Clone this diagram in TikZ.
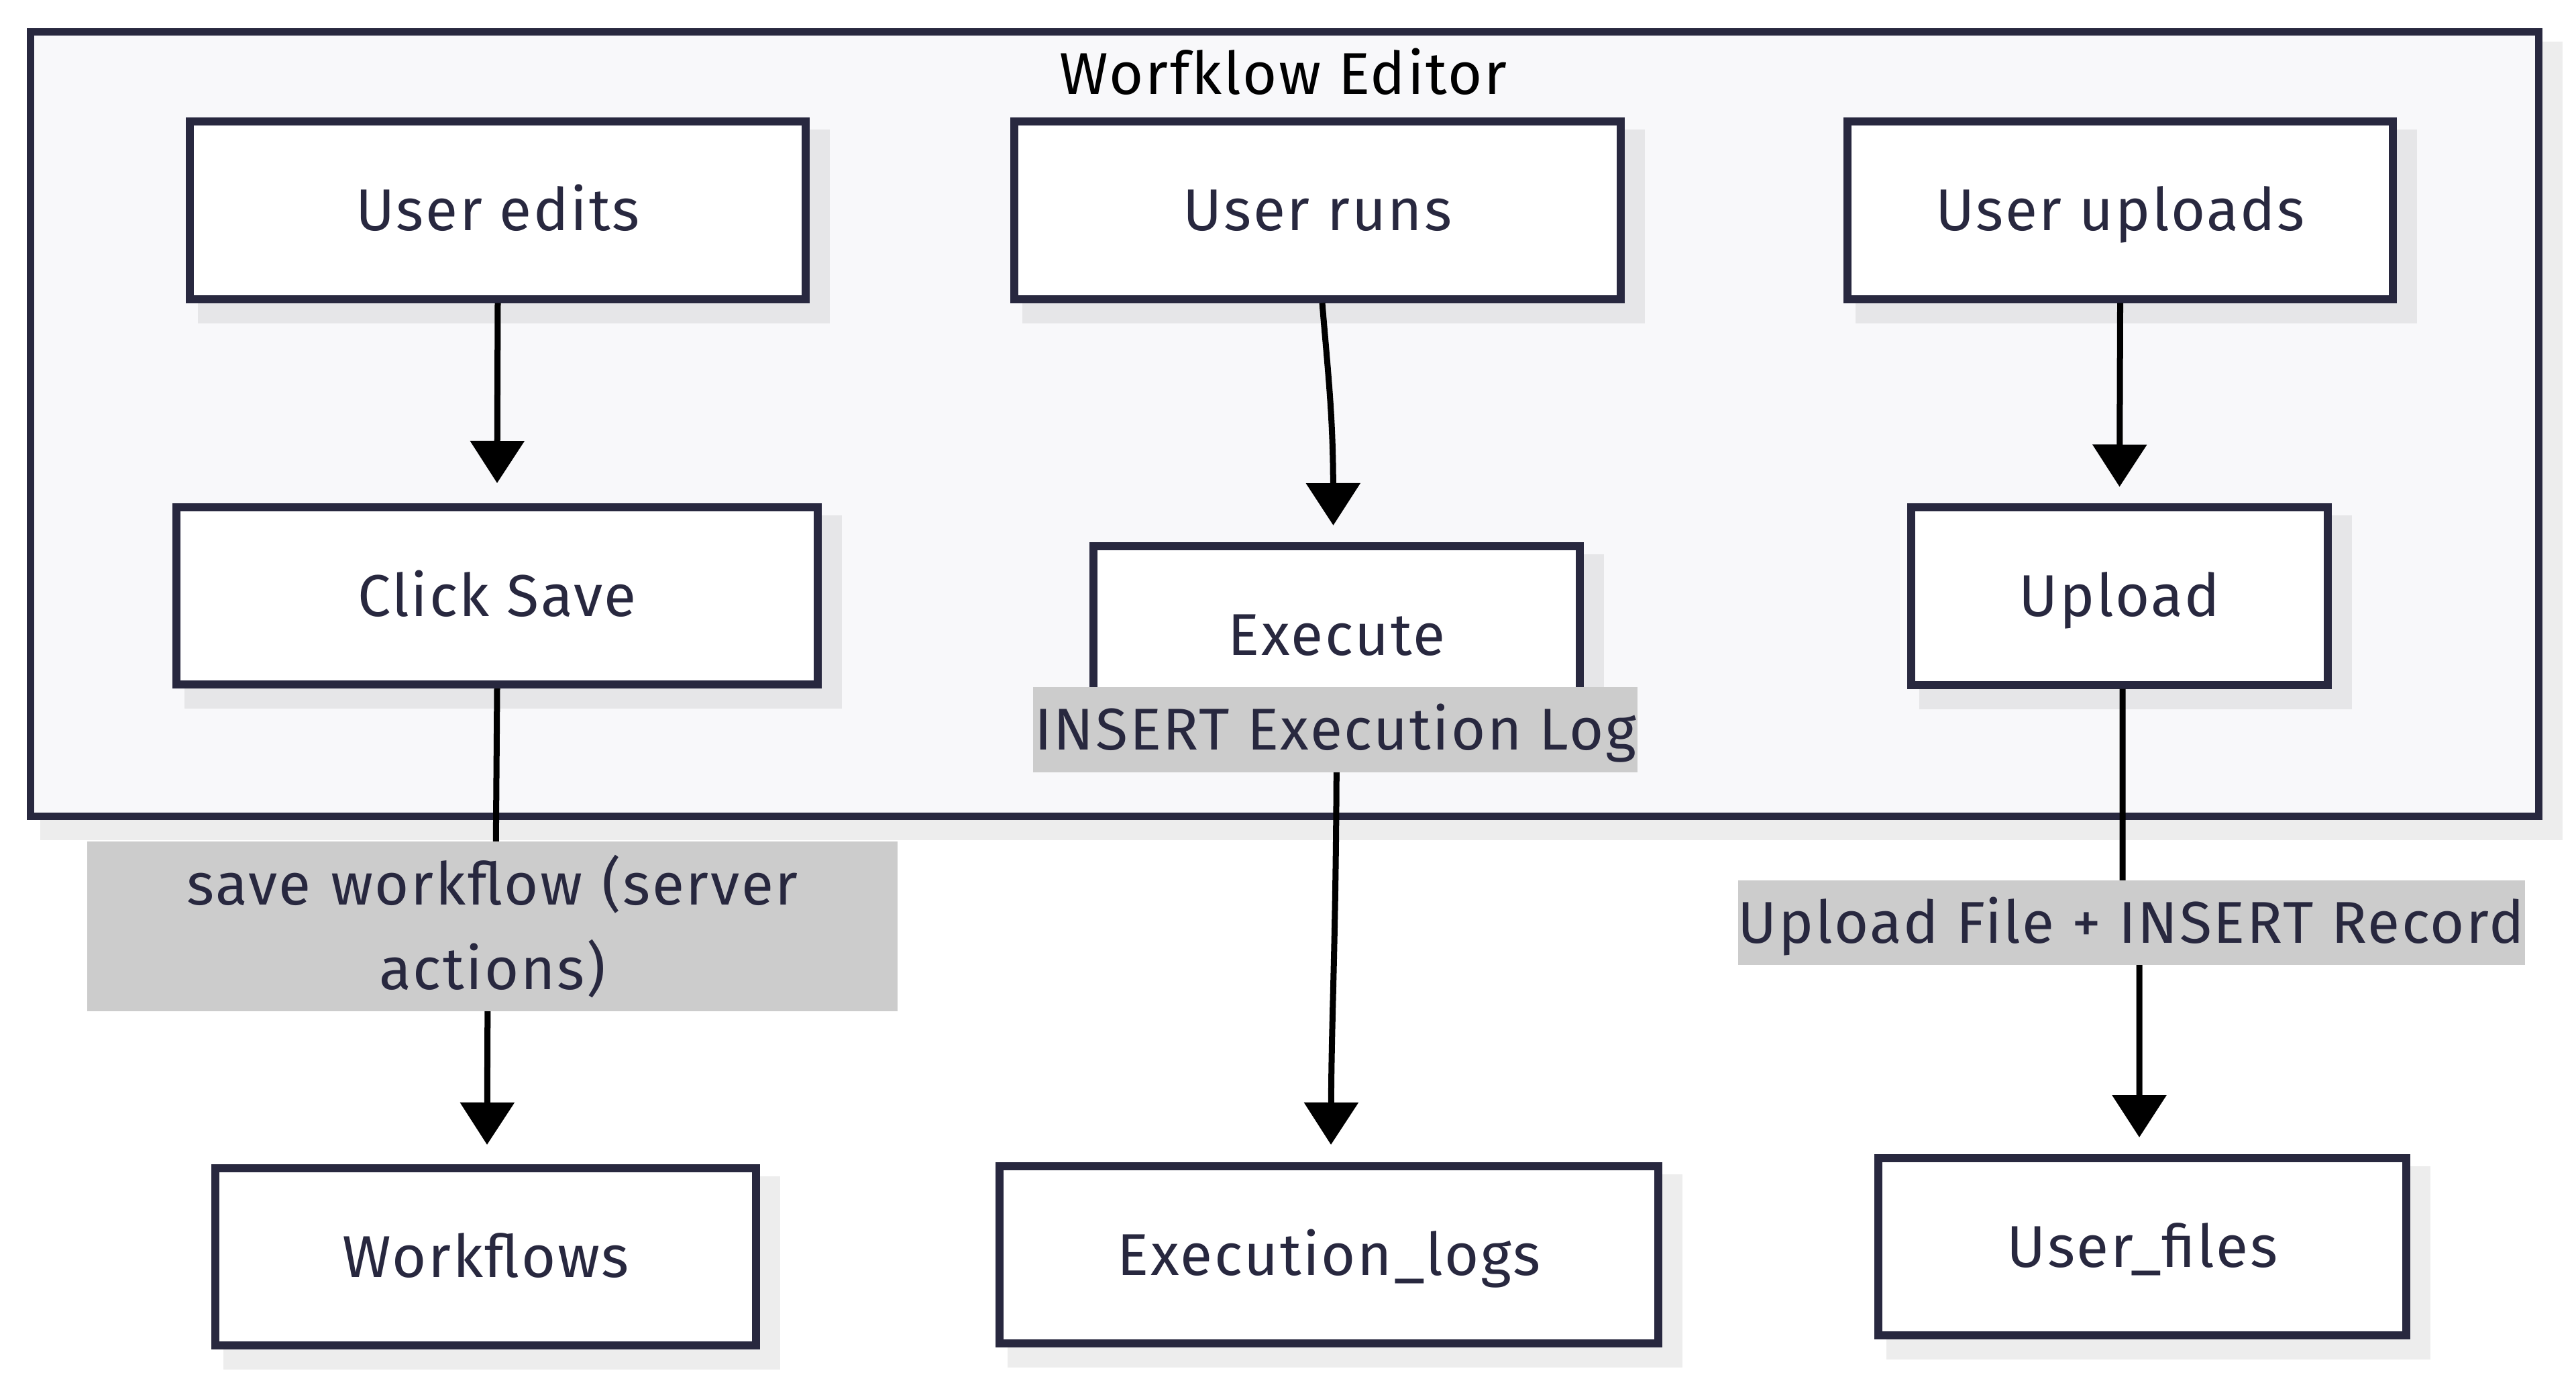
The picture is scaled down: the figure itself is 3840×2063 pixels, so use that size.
\documentclass[tikz,border=0pt]{standalone}
\usepackage{fontspec}
\setmainfont{Fira Sans}[LetterSpace=3]
\usetikzlibrary{arrows.meta,calc}
\definecolor{ink}{HTML}{28283F}
\definecolor{framefill}{HTML}{F8F8FA}
\definecolor{lblfill}{HTML}{CCCCCC}
\pgfdeclarelayer{bglayer}
\pgfdeclarelayer{shadowlayer}
\pgfsetlayers{bglayer,shadowlayer,main}
\newcommand\boxshadow[1]{\fill[black,opacity=0.07] ($(#1.north west)+(18,18)$) rectangle ($(#1.south east)+(30,30)$);}
\begin{document}
\begin{tikzpicture}[x=0.01cm,y=-0.01cm,
  txt/.style={font=\fontsize{25}{30}\selectfont},
  box/.style={txt, draw=ink, line width=3.4pt, fill=white, minimum width=#1, minimum height=2.64cm, inner sep=0pt, text=ink, text height=17.3pt, text depth=0pt},
  lbl/.style={txt, fill=lblfill, inner sep=0pt, text=ink},
  framebox/.style={draw=ink, line width=3.1pt, fill=framefill, minimum width=37.36cm, minimum height=11.68cm, inner sep=0pt},
  titletext/.style={txt, text=black, inner sep=0pt, text height=17.3pt, text depth=0pt},
  edge/.style={draw=black, line width=2.56pt, -{Triangle[length=17.9pt,width=22.5pt]}}
]
\useasboundingbox (0,0) rectangle (3840,2063);
\begin{pgfonlayer}{bglayer}
  \fill[white] (0,0) rectangle (3840,2063);
  \node[framebox] (editor) at (1915,632) {};
  \fill[black,opacity=0.07] ($(editor.north west)+(19.5,19.5)$) rectangle ($(editor.south east)+(30.5,30.5)$);
  \node[framebox] at (1915,632) {};
\end{pgfonlayer}
\node[titletext] (ttl) at (1913,110) {Worfklow Editor};

\node[box=9.18cm] (uedit) at (742,313.5) {User edits};
\node[box=9.04cm] (urun) at (1964,313.5) {User runs};
\node[box=8.13cm] (uupl) at (3160.5,313.5) {User uploads};
\node[box=9.56cm] (csave) at (741,888) {Click Save};
\node[box=7.25cm] (exec) at (1992.5,946) {Execute};
\node[box=6.21cm] (upl) at (3159.5,888.5) {Upload};
\node[box=8.06cm] (wf) at (724,1873) {Workflows};
\node[box=9.82cm] (elogs) at (1981,1870) {Execution\_logs};
\node[box=7.87cm] (ufiles) at (3193.5,1858) {User\_files};

\begin{pgfonlayer}{shadowlayer}
  \boxshadow{uedit}\boxshadow{urun}\boxshadow{uupl}
  \boxshadow{csave}\boxshadow{exec}\boxshadow{upl}
  \boxshadow{wf}\boxshadow{elogs}\boxshadow{ufiles}
\end{pgfonlayer}

\draw[edge] (uedit.south) -- ($(csave.north)+(0,-30)$);
\draw[edge] ($(urun.south)+(7,0)$) .. controls (1980,560) and (1987,620) .. ($(exec.north)+(-5,-25)$);
\draw[edge] (uupl.south) -- ($(upl.north)+(0,-25)$);
\draw[edge] (csave.south) -- (739,1290) -- (727,1470) -- ($(wf.north)+(2,-29)$);
\draw[edge] (exec.south) .. controls (1992,1400) and (1985,1500) .. ($(elogs.north)+(3,-26)$);
\draw[edge] ($(upl.south)+(4.5,0)$) -- (3164,1330) -- (3189,1420) -- ($(ufiles.north)+(-4.5,-25)$);

\node[lbl, minimum width=12.08cm, minimum height=2.53cm, align=center, text width=12.08cm, font=\fontsize{25}{35.8}\selectfont] (lsave) at (734,1380.5) {save workflow (server\\actions)};
\node[lbl, minimum width=9.01cm, minimum height=1.27cm, text height=17.3pt, text depth=0pt] (lexec) at (1990.5,1087.5) {INSERT Execution Log};
\node[lbl, minimum width=11.72cm, minimum height=1.26cm, text height=17.3pt, text depth=0pt] (lupl) at (3177,1375) {Upload File + INSERT Record};
\end{tikzpicture}
\end{document}
